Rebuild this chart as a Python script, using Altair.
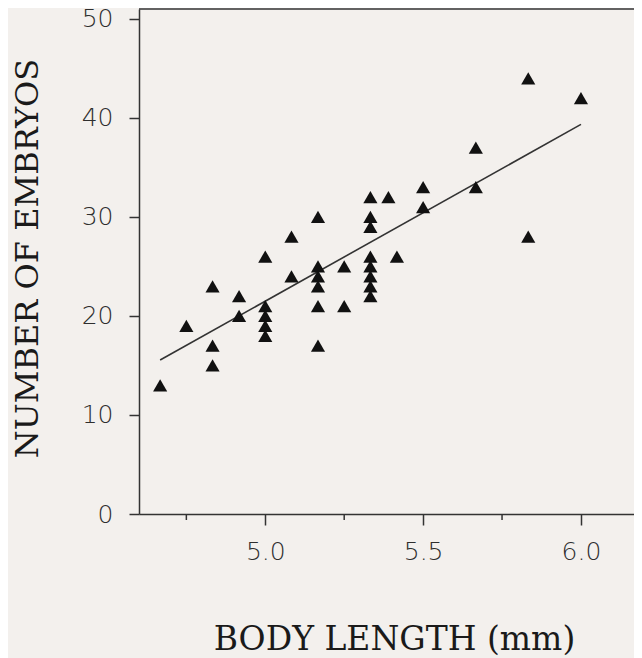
import altair as alt
import pandas as pd

# Data
body_length = [4.667, 4.75, 4.833, 4.833, 4.833, 4.917, 4.917,
               5.0, 5.0, 5.0, 5.0, 5.0,
               5.083, 5.083,
               5.167, 5.167, 5.167, 5.167, 5.167, 5.167,
               5.25, 5.25,
               5.333, 5.333, 5.333, 5.333, 5.333, 5.333, 5.333, 5.333,
               5.39, 5.417, 5.5, 5.5, 5.667, 5.667, 5.833, 5.833, 6.0]
embryos = [13, 19, 23, 17, 15, 22, 20,
           26, 21, 20, 19, 18,
           28, 24,
           30, 25, 24, 23, 21, 17,
           25, 21,
           32, 30, 29, 26, 25, 24, 23, 22,
           32, 26, 33, 31, 37, 33, 44, 28, 42]

fit_x = [4.667, 6.0]
fit_y = [15.55, 39.35]

major_ticks_x = [5.0, 5.5, 6.0]
minor_ticks_x = [4.75, 5.25, 5.75]
ticks_y = [0, 10, 20, 30, 40, 50]

W, H = 495, 505
AX = "#333333"

pts = pd.DataFrame({"x": body_length, "y": embryos})
fit = pd.DataFrame({"x": fit_x, "y": fit_y})
minor = pd.DataFrame({"x": minor_ticks_x})

xscale = alt.Scale(domain=[4.6, 6.168], nice=False, zero=False)
yscale = alt.Scale(domain=[0, 51], nice=False, zero=False)

xaxis = alt.Axis(
    values=major_ticks_x, format=".1f", grid=False,
    tickSize=11, tickWidth=1.5, tickColor=AX,
    domainColor=AX, domainWidth=1.5,
    labelFont="DejaVu Sans", labelFontSize=25, labelFontWeight=300,
    labelColor="#2e2e2e", labelPadding=14,
    title="BODY LENGTH (mm)", titleFont="DejaVu Serif", titleFontSize=33,
    titleFontWeight="normal", titleColor="#1a1a1a",
    titleX=255, titleY=135, titleAlign="center", titleBaseline="alphabetic",
)
yaxis = alt.Axis(
    values=ticks_y, format="d", grid=False,
    tickSize=10, tickWidth=1.5, tickColor=AX,
    domainColor=AX, domainWidth=1.5,
    labelFont="DejaVu Sans", labelFontSize=25, labelFontWeight=300,
    labelColor="#2e2e2e", labelPadding=16,
    title="NUMBER OF EMBRYOS", titleFont="DejaVu Serif", titleFontSize=32,
    titleFontWeight="normal", titleColor="#1a1a1a",
    titleX=-102, titleY=249, titleAngle=-90, titleAlign="center",
    titleBaseline="alphabetic",
)

points = alt.Chart(pts).mark_point(
    shape="triangle-up", filled=True, size=200, color="#111111", opacity=1
).encode(
    x=alt.X("x:Q", scale=xscale, axis=xaxis),
    y=alt.Y("y:Q", scale=yscale, axis=yaxis),
)

line = alt.Chart(fit).mark_line(color="#333333", strokeWidth=1.6).encode(
    x=alt.X("x:Q", scale=xscale),
    y=alt.Y("y:Q", scale=yscale),
)

minor_rules = alt.Chart(minor).mark_rule(
    color=AX, strokeWidth=1.5, clip=False
).encode(
    x=alt.X("x:Q", scale=xscale),
    y=alt.value(H),
    y2=alt.value(H + 6),
)

top_rule = alt.Chart(pd.DataFrame({"a": [0]})).mark_rule(
    color=AX, strokeWidth=1.5
).encode(
    x=alt.value(0), x2=alt.value(W), y=alt.value(0)
)

chart = alt.layer(line, points, minor_rules, top_rule).properties(
    width=W, height=H,
    autosize=alt.AutoSizeParams(type="none"),
    padding={"left": 131, "top": 1, "right": 0, "bottom": 145},
    background="#f3f0ed",
).configure_view(stroke=None)

chart.save("out.html", embed_options={"renderer": "svg", "actions": False})
